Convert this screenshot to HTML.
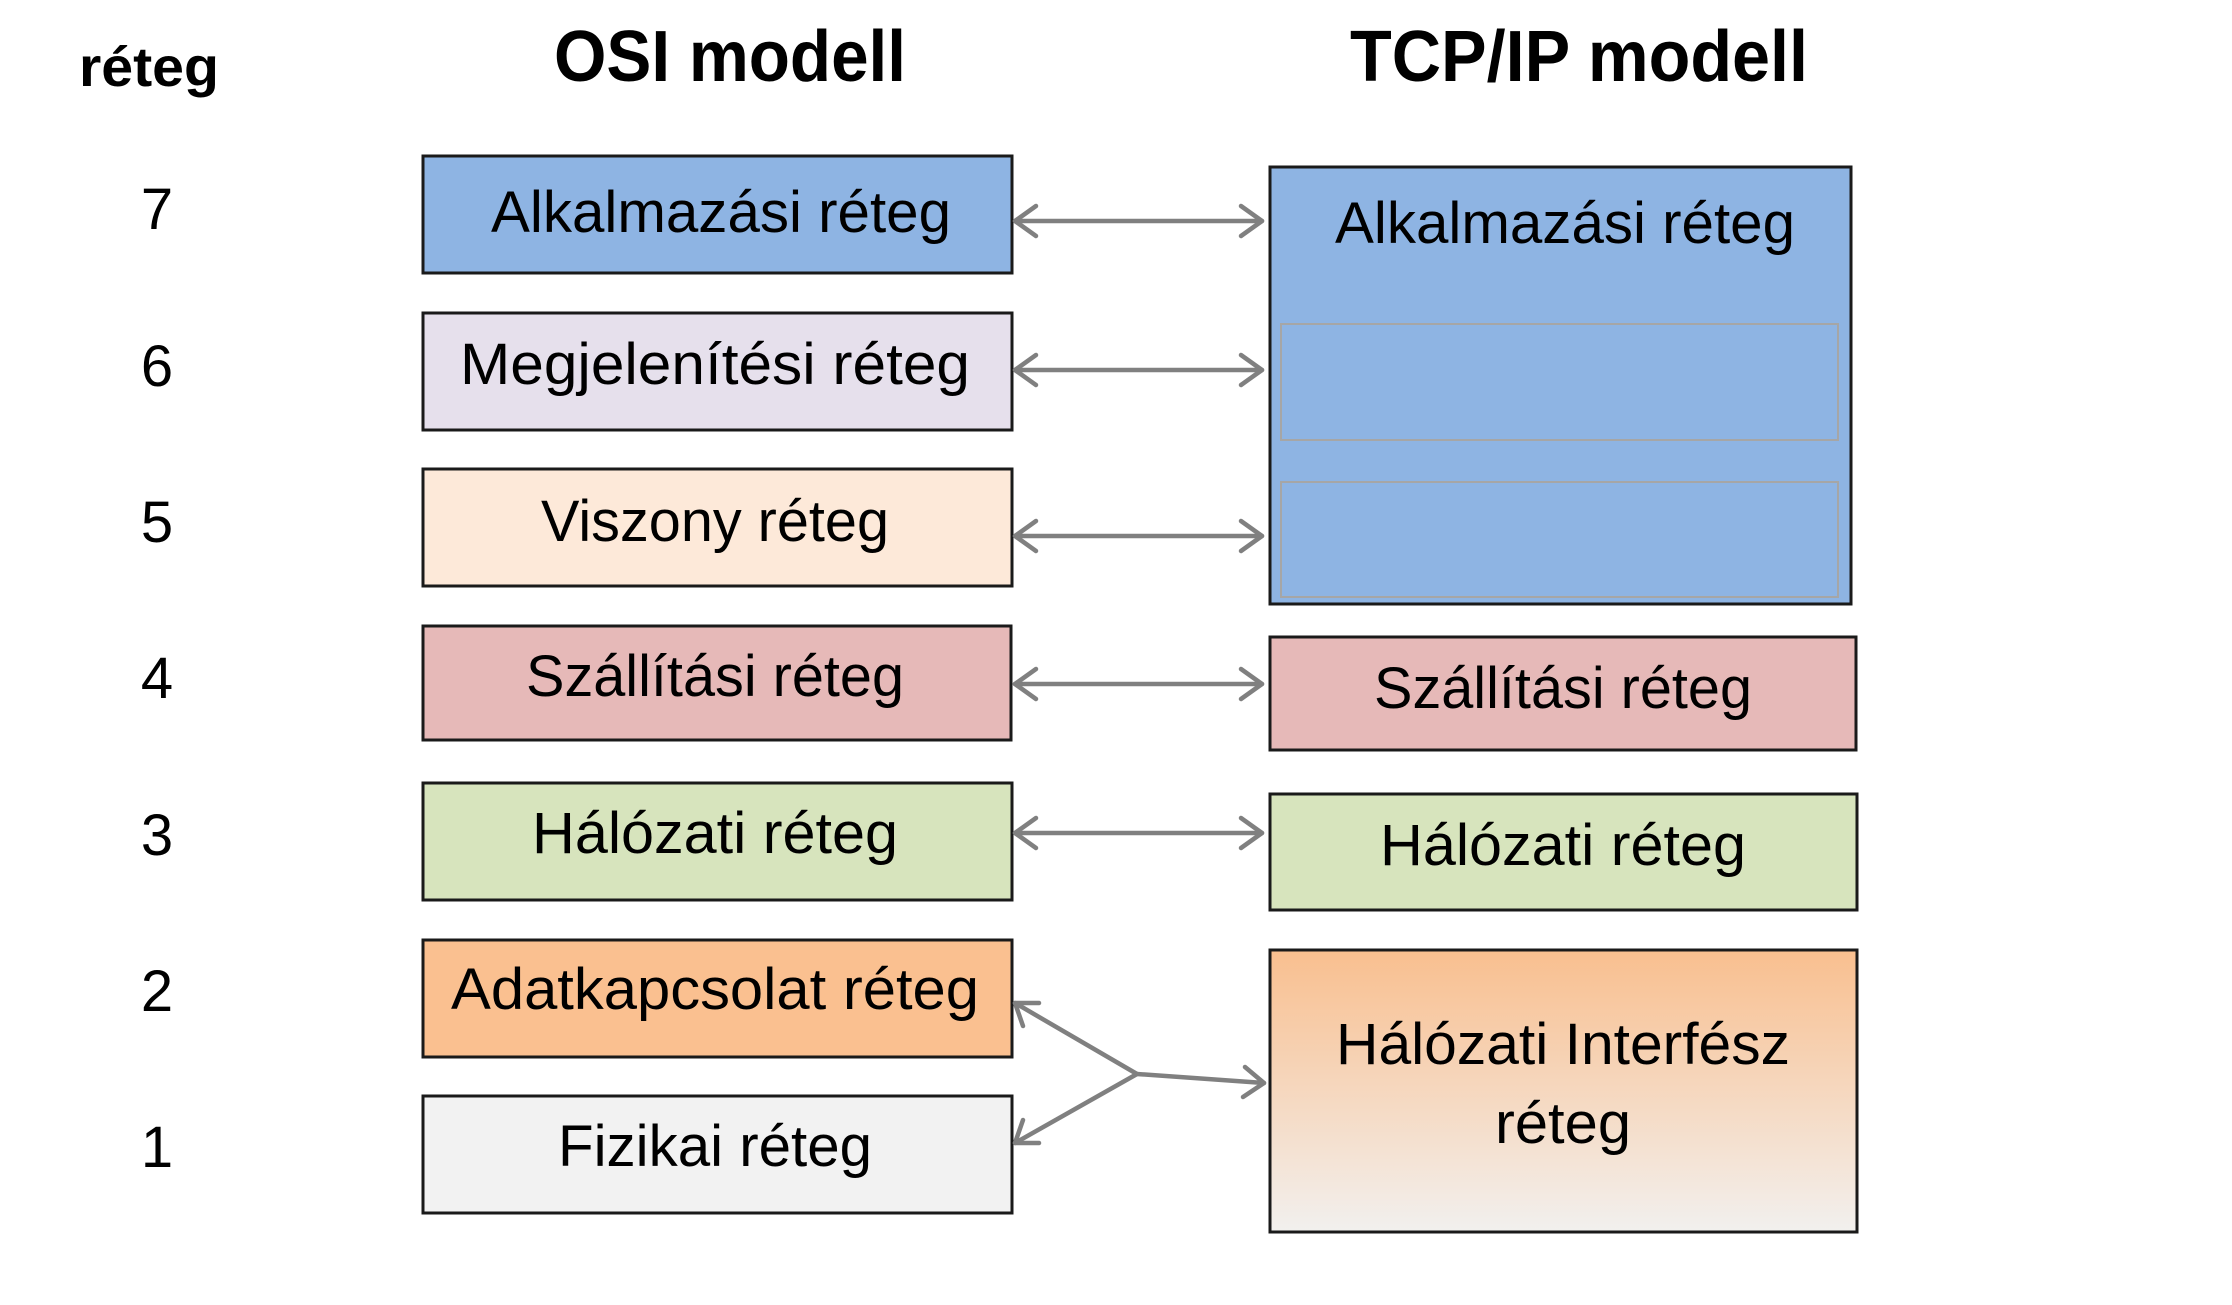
<!DOCTYPE html>
<html><head><meta charset="utf-8"><style>
html,body{margin:0;padding:0;background:#fff;}
svg{display:block;}
text{font-family:"Liberation Sans",sans-serif;fill:#000;}
</style></head><body>
<svg width="2232" height="1305" viewBox="0 0 2232 1305" xmlns="http://www.w3.org/2000/svg">
<defs>
<linearGradient id="g" x1="0" y1="0" x2="0" y2="1">
<stop offset="0" stop-color="#f9bf8f"/><stop offset="1" stop-color="#f2f0ee"/>
</linearGradient>
</defs>
<g transform="translate(-4,-3)">
<!-- headers -->
<text x="153" y="89" font-size="56" font-weight="bold" text-anchor="middle" textLength="140" lengthAdjust="spacingAndGlyphs">réteg</text>
<text x="734" y="84" font-size="72" font-weight="bold" text-anchor="middle" textLength="352" lengthAdjust="spacingAndGlyphs">OSI modell</text>
<text x="1583" y="84" font-size="72" font-weight="bold" text-anchor="middle" textLength="458" lengthAdjust="spacingAndGlyphs">TCP/IP modell</text>
<!-- numbers -->
<g font-size="58" text-anchor="middle">
<text x="161" y="232">7</text>
<text x="161" y="389">6</text>
<text x="161" y="545">5</text>
<text x="161" y="701">4</text>
<text x="161" y="858">3</text>
<text x="161" y="1014">2</text>
<text x="161" y="1170">1</text>
</g>
<!-- OSI boxes -->
<g stroke="#1a1a1a" stroke-width="3">
<rect x="427" y="159" width="589" height="117" fill="#8eb4e3"/>
<rect x="427" y="316" width="589" height="117" fill="#e6e0ec"/>
<rect x="427" y="472" width="589" height="117" fill="#fde9d9"/>
<rect x="427" y="629" width="588" height="114" fill="#e6b9b8"/>
<rect x="427" y="786" width="589" height="117" fill="#d7e4bd"/>
<rect x="427" y="943" width="589" height="117" fill="#fac090"/>
<rect x="427" y="1099" width="589" height="117" fill="#f2f2f2"/>
</g>
<g font-size="58" text-anchor="middle">
<text x="725" y="235" textLength="460" lengthAdjust="spacingAndGlyphs">Alkalmazási réteg</text>
<text x="719" y="387" textLength="510" lengthAdjust="spacingAndGlyphs">Megjelenítési réteg</text>
<text x="719" y="544" textLength="348" lengthAdjust="spacingAndGlyphs">Viszony réteg</text>
<text x="719" y="699" textLength="378" lengthAdjust="spacingAndGlyphs">Szállítási réteg</text>
<text x="719" y="856" textLength="366" lengthAdjust="spacingAndGlyphs">Hálózati réteg</text>
<text x="719" y="1012" textLength="528" lengthAdjust="spacingAndGlyphs">Adatkapcsolat réteg</text>
<text x="719" y="1169" textLength="314" lengthAdjust="spacingAndGlyphs">Fizikai réteg</text>
</g>
<g transform="translate(-5,0)">
<!-- TCP boxes -->
<g stroke="#1a1a1a" stroke-width="3">
<rect x="1279" y="170" width="581" height="437" fill="#8eb4e3"/>
<rect x="1279" y="640" width="586" height="113" fill="#e6b9b8"/>
<rect x="1279" y="797" width="587" height="116" fill="#d7e4bd"/>
<rect x="1279" y="953" width="587" height="282" fill="url(#g)"/>
</g>
<g stroke="#a6a6a6" stroke-width="2" fill="none">
<rect x="1290" y="327" width="557" height="116"/>
<rect x="1290" y="485" width="557" height="115"/>
</g>
<g font-size="58" text-anchor="middle">
<text x="1574" y="246" textLength="460" lengthAdjust="spacingAndGlyphs">Alkalmazási réteg</text>
<text x="1572" y="711" textLength="378" lengthAdjust="spacingAndGlyphs">Szállítási réteg</text>
<text x="1572" y="868" textLength="366" lengthAdjust="spacingAndGlyphs">Hálózati réteg</text>
<text x="1572" y="1067" textLength="454" lengthAdjust="spacingAndGlyphs">Hálózati Interfész</text>
<text x="1572" y="1146" textLength="136" lengthAdjust="spacingAndGlyphs">réteg</text>
</g>
</g>
<!-- arrows -->
<g stroke="#808080" stroke-width="4.5" fill="none" stroke-linecap="round" stroke-linejoin="round">
<line x1="1019" y1="224" x2="1266" y2="224"/><polyline points="1040,209 1019,224 1040,239"/><polyline points="1245,209 1266,224 1245,239"/>
<line x1="1019" y1="373" x2="1266" y2="373"/><polyline points="1040,358 1019,373 1040,388"/><polyline points="1245,358 1266,373 1245,388"/>
<line x1="1019" y1="539" x2="1266" y2="539"/><polyline points="1040,524 1019,539 1040,554"/><polyline points="1245,524 1266,539 1245,554"/>
<line x1="1019" y1="687" x2="1266" y2="687"/><polyline points="1040,672 1019,687 1040,702"/><polyline points="1245,672 1266,687 1245,702"/>
<line x1="1019" y1="836" x2="1266" y2="836"/><polyline points="1040,821 1019,836 1040,851"/><polyline points="1245,821 1266,836 1245,851"/>
<polyline points="1019,1006 1141,1077 1019,1146"/>
<line x1="1141" y1="1077" x2="1268" y2="1086"/>
<polyline points="1043,1006 1019,1006 1027,1029"/>
<polyline points="1027,1123 1019,1146 1043,1146"/>
<polyline points="1249,1070 1268,1086 1247,1100"/>
</g>
</g>
</svg>
</body></html>
